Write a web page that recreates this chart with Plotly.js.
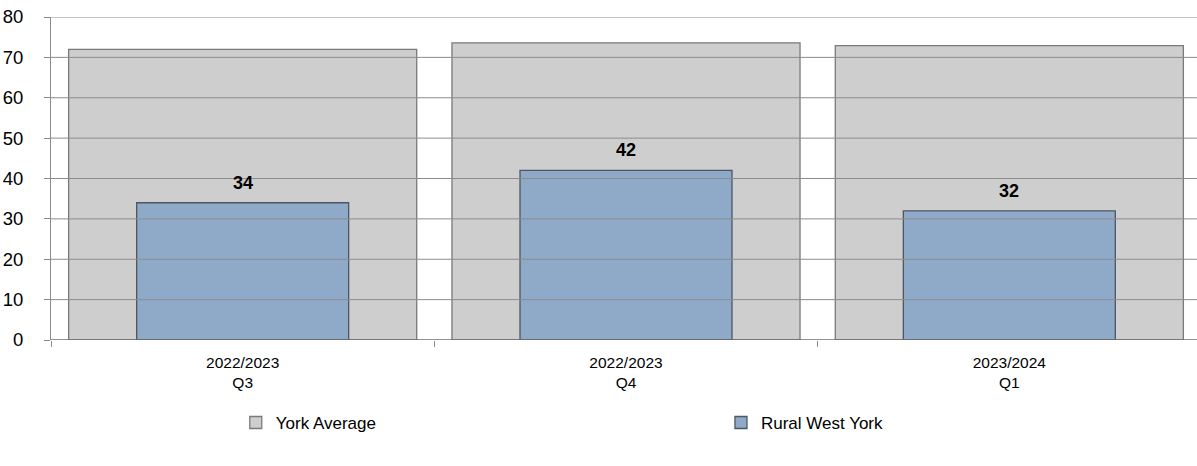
<!DOCTYPE html>
<html><head><meta charset="utf-8">
<script src="https://cdn.plot.ly/plotly-3.0.1.min.js"></script>
<style>html,body{margin:0;padding:0;overflow:hidden;background:#fff}</style>
</head><body>
<div id="chart" style="width:1201px;height:466px"></div>
<script>
const categories = ["2022/2023<br>Q3", "2022/2023<br>Q4", "2023/2024<br>Q1"];
const yorkAverage = [72.0, 73.6, 72.9];
const ruralWestYork = [34, 42, 32];
const yTicks = [0, 10, 20, 30, 40, 50, 60, 70, 80];

const traces = [
  {type: 'bar', name: 'York Average', x: categories, y: yorkAverage, width: 0.908, legend: 'legend',
   marker: {color: '#cecece', line: {color: '#7a7a7a', width: 1.3}}, hoverinfo: 'y'},
  {type: 'bar', name: 'Rural West York', x: categories, y: ruralWestYork, width: 0.553, legend: 'legend2',
   marker: {color: '#8eaac8', line: {color: '#4f5660', width: 1.3}}, hoverinfo: 'y'}
];

const gridShapes = yTicks.map(v => ({type: 'line', xref: 'paper', x0: 0, x1: 1, yref: 'y', y0: v, y1: v,
  line: {color: v === 0 ? '#6e6e6e' : '#8c8c8c', width: v === 0 ? 1.5 : 1}, layer: 'above'}));

const labelAnnots = categories.map((c, i) => ({x: c, y: ruralWestYork[i], xref: 'x', yref: 'y',
  text: '<b>' + ruralWestYork[i] + '</b>', showarrow: false, yshift: 20,
  font: {family: 'Liberation Sans, Arial, sans-serif', size: 18, color: '#000'}}));

const legendBase = {orientation: 'h', xanchor: 'left', yanchor: 'top', xref: 'container', yref: 'container',
  y: 0.131, font: {size: 17}, bgcolor: 'rgba(0,0,0,0)'};

const layout = {
  width: 1201, height: 466,
  margin: {l: 51, r: 0, t: 17, b: 126},
  barmode: 'overlay',
  paper_bgcolor: '#fff', plot_bgcolor: '#fff',
  font: {family: 'Liberation Sans, Arial, sans-serif', color: '#000'},
  xaxis: {type: 'category', tickson: 'boundaries', ticks: 'outside', ticklen: 6, tickcolor: '#8c8c8c',
          ticklabelstandoff: 11,
          showgrid: false, showline: false, zeroline: false, tickfont: {size: 15.5}, fixedrange: true},
  yaxis: {range: [0, 80], tickvals: yTicks, ticks: 'outside', ticklen: 6, tickcolor: '#8c8c8c',
          ticklabelstandoff: 17,
          showgrid: false, zeroline: false, showline: true, linecolor: '#8c8c8c', linewidth: 1,
          tickfont: {size: 18.5}, fixedrange: true},
  shapes: gridShapes,
  annotations: labelAnnots,
  showlegend: true,
  legend: Object.assign({}, legendBase, {x: 0.1963}),
  legend2: Object.assign({}, legendBase, {x: 0.6003})
};
Plotly.newPlot('chart', traces, layout, {displayModeBar: false, staticPlot: true});
</script>
</body></html>
